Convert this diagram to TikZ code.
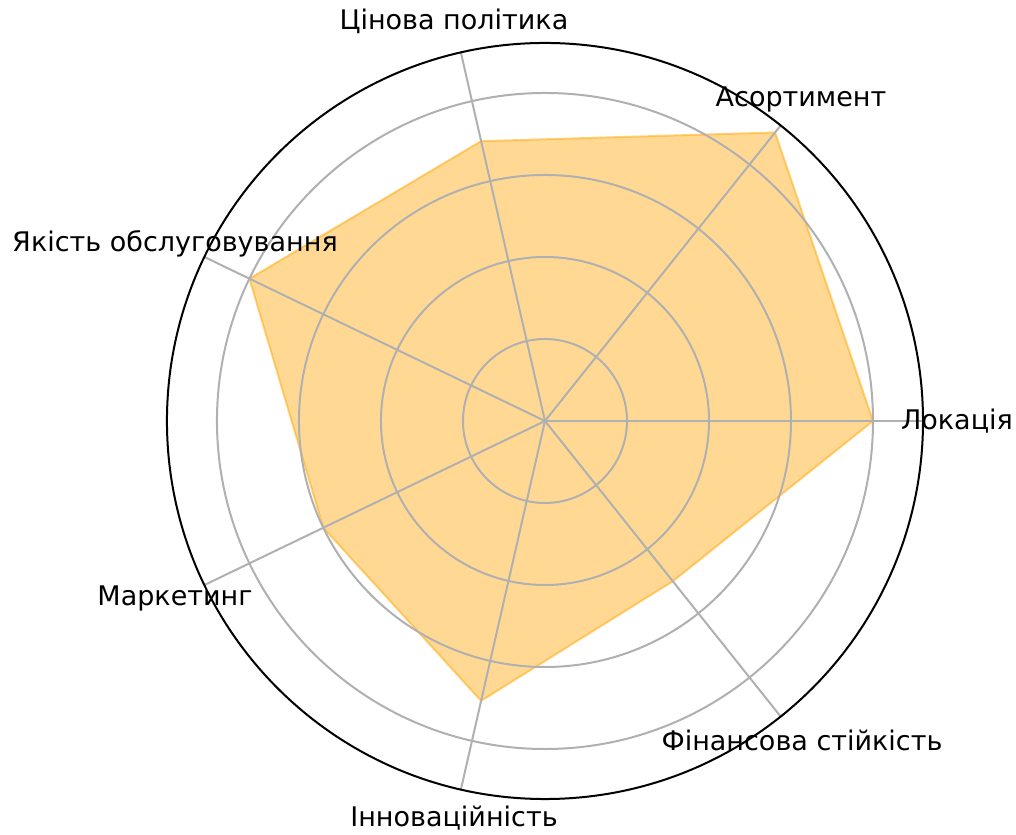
\documentclass[tikz,border=0pt]{standalone}
\usepackage{fontspec}
\setmainfont{DejaVu Sans}
\usetikzlibrary{positioning}
\definecolor{mplorange}{RGB}{255,165,0}
\definecolor{mplgrid}{RGB}{176,176,176}
\tikzset{
    gridline/.style={draw=mplgrid,line width=1pt},
    frame/.style={draw=black,line width=1pt},
    area/.style={fill=mplorange,fill opacity=0.42,draw=mplorange,draw opacity=0.5,line width=1pt,line join=round},
    axislabel/.style={font=\fontsize{13.5}{16}\selectfont,inner sep=0pt}
}

\begin{document}
\begin{tikzpicture}[x=41pt,y=41pt]
        \useasboundingbox (-6.646,-5.037) rectangle (5.744,5.134);
        % values
        \coordinate (loc) at (0:4);
        \coordinate (asort) at ({360/7}:4.5);
        \coordinate (price) at ({2*360/7}:3.5);
        \coordinate (service) at ({3*360/7}:4);
        \coordinate (market) at ({4*360/7}:3);
        \coordinate (innov) at ({5*360/7}:3.5);
        \coordinate (finance) at ({6*360/7}:2.5);
        \fill[area] (loc) -- (asort) -- (price) -- (service) -- (market) -- (innov) -- (finance) -- cycle;
        % radial grid
        \foreach \r in {1,2,3,4}
            \draw[gridline] (0,0) circle (\r);
        % spokes
        \foreach \k in {0,...,6}
            \draw[gridline] (0,0) -- ({\k*360/7}:4.61);
        \draw[frame] (0,0) circle (4.61);
        % labels
        \node[axislabel] (lloc) at (5.024,0) {Локація};
        \node[axislabel] (lasort) at (3.122,3.915) {Асортимент};
        \node[axislabel] (lprice) at (-1.11,4.878) {Цінова політика};
        \node[axislabel] (lservice) at (-4.512,2.159) {Якість обслуговування};
        \node[axislabel] (lmarket) at (-4.512,-2.159) {Маркетинг};
        \node[axislabel] (linnov) at (-1.11,-4.841) {Інноваційність};
        \node[axislabel] (lfinance) at (3.134,-3.89) {Фінансова стійкість};
\end{tikzpicture}
\end{document}
